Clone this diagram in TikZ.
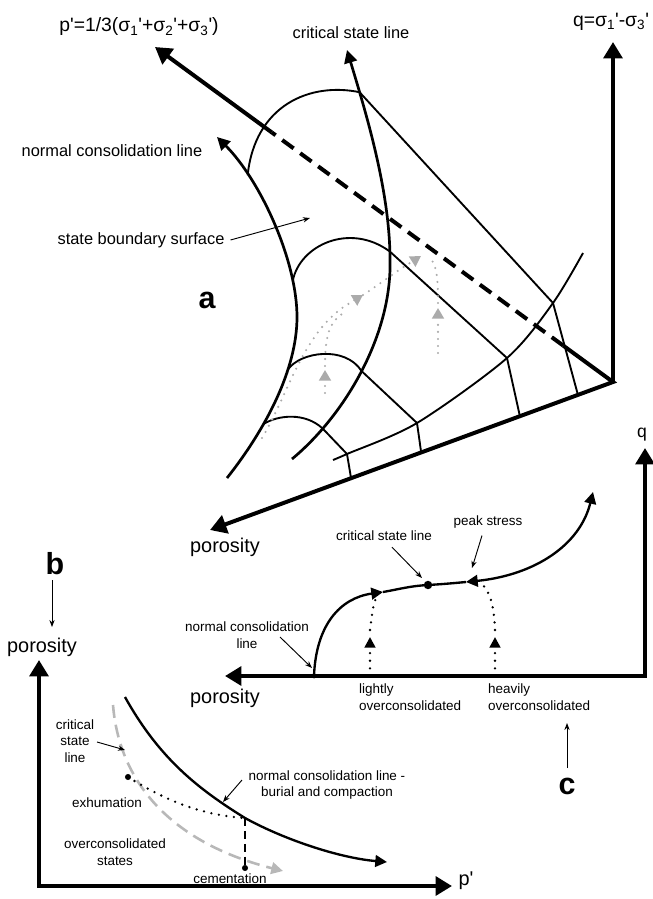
\documentclass[tikz,border=0pt]{standalone}
\usepackage{fontspec}
\setmainfont{Liberation Sans}[Ligatures=TeXOff]
\usetikzlibrary{arrows.meta,calc}
\begin{document}
\begin{tikzpicture}[x=0.03cm,y=-0.03cm,
        axis/.style={line width=3.4pt,-{Triangle[length=14pt,width=16pt]}},
        dblaxis/.style={line width=3.4pt,{Triangle[length=14pt,width=16pt]}-{Triangle[length=14pt,width=16pt]}},
        thickline/.style={line width=2.3pt},
        thinline/.style={line width=1.6pt},
        cline/.style={line width=2pt},
        tip/.style={-{Triangle[length=10pt,width=10pt]}},
        pointer/.style={line width=0.8pt,-{Stealth[length=6pt,width=4.5pt]}},
        graydots/.style={draw=black!33,line width=2pt,line cap=round,dash pattern=on 0pt off 6pt},
        graytip/.style={-{Triangle[length=9pt,width=10pt,line cap=butt]}},
        graydash/.style={draw=black!28,line width=2.2pt,dash pattern=on 11pt off 6pt},
        blackdots/.style={line width=2.2pt,line cap=round,dash pattern=on 0pt off 6.5pt},
        lab/.style={font=\fontsize{11.5}{14}\selectfont,align=center,inner sep=0pt},
        midlab/.style={font=\fontsize{14}{16}\selectfont,inner sep=0pt},
        biglab/.style={font=\fontsize{17}{19}\selectfont,inner sep=0pt},
        panel/.style={font=\fontsize{26}{28}\selectfont\bfseries,inner sep=0pt}]
    \useasboundingbox (0,0) rectangle (653,899);

    \coordinate (O) at (613,382);
    \coordinate (qtip) at (613,42);
    \coordinate (ptip) at (155,47);
    \coordinate (ftip) at (210,530);
    \coordinate (pd1) at ($(O)!0.109!(ptip)$);
    \coordinate (pd2) at ($(O)!0.745!(ptip)$);
    \draw[axis] (O) -- (qtip);
    \draw[axis] (pd1) -- (O) -- (ftip);
    \draw[line width=3.4pt,dash pattern=on 12pt off 7pt] (pd1) -- (pd2);
    \draw[axis] (pd2) -- (ptip);

    \draw[thickline,-{Triangle[length=11pt,width=11pt]}] (227,478) .. controls (265,430) and (297,370) .. (297,317)
        coordinate[pos=0.35] (n4) coordinate[pos=0.68] (n3)
        .. controls (297,260) and (260,180) .. (217,137)
        coordinate[pos=0.2] (n2) coordinate[pos=0.75] (n1);
    \draw[thickline,-{Triangle[length=11pt,width=11pt]}] (292,459) .. controls (345,415) and (392,335) .. (390,260)
        coordinate[pos=0.2] (c4) coordinate[pos=0.5] (c3)
        .. controls (390,190) and (365,110) .. (347,50)
        coordinate[pos=0.04] (c2) coordinate[pos=0.78] (c1);

    \coordinate (b1) at (553,303);
    \coordinate (b2) at (507,358);
    \coordinate (b3) at (417,423);
    \coordinate (b4) at (347,454);
    \coordinate (a1) at ($(O)!0.087!(ftip)$);
    \coordinate (a2) at ($(O)!0.231!(ftip)$);
    \coordinate (a3) at ($(O)!0.476!(ftip)$);
    \coordinate (a4) at ($(O)!0.650!(ftip)$);
    \draw[thinline] plot[smooth] coordinates {(333,460) (b4) (b3) (b2) (b1) (583,253)};
    \draw[thinline] (n1) .. controls (255,105) and (310,82) .. (c1) -- (b1) -- (a1);
    \draw[thinline] (n2) .. controls (300,245) and (350,222) .. (c2) -- (b2) -- (a2);
    \draw[thinline] (n3) .. controls (300,352) and (345,345) .. (c3) -- (b3) -- (a3);
    \draw[thinline] (n4) .. controls (278,415) and (305,412) .. (c4) -- (b4) -- (a4);

    \coordinate (g1) at (363,295);
    \coordinate (g2) at (421,256);
    \coordinate (g3) at (325,370);
    \coordinate (g4) at (438,308);
    \draw[graydots,graytip] (262,438) .. controls (288,395) and (302,335) .. (345,306) -- (g1);
    \draw[graydots,graytip] (g1) .. controls (380,284) and (395,272) .. (410,263) -- (g2);
    \draw[graydots,graytip] (325,393) -- (g3);
    \draw[graydots] (325,366) .. controls (325,335) and (330,322) .. (342,314);
    \draw[graydots,graytip] (438,353) -- (g4);
    \draw[graydots] (438,303) .. controls (438,280) and (437,265) .. (430,258);

    \node[font=\fontsize{16.5}{19}\selectfont,inner sep=0pt] (plab) at (139,27) {p'=1/3(σ\textsubscript{1}'+σ\textsubscript{2}'+σ\textsubscript{3}')};
    \node[font=\fontsize{16.5}{19}\selectfont,inner sep=0pt] (qlab) at (611,22) {q=σ\textsubscript{1}'-σ\textsubscript{3}'};
    \node[midlab] (csla) at (351,33) {critical state line};
    \node[midlab] (ncla) at (112,151) {normal consolidation line};
    \node[midlab] (sbs) at (141,240) {state boundary surface};
    \coordinate (sbsend) at (310,218);
    \draw[pointer] ([xshift=5pt]sbs.east) -- (sbsend);
    \node[panel] (pa) at (207,300) {a};
    \node[biglab] (pora) at (225,547) {porosity};

    \coordinate (cO) at (645,676);
    \coordinate (cq) at (645,448);
    \coordinate (cp) at (225,676);
    \draw[dblaxis] (cq) -- (cO) -- (cp);
    \coordinate (cn) at (314,676);
    \coordinate (cm1) at (383,592);
    \coordinate (cs) at (428,585);
    \coordinate (pk) at (466,582);
    \coordinate (ctip) at (593,492);
    \draw[cline,tip] (cn) .. controls (316,625) and (340,598) .. (cm1);
    \draw[cline] (cm1) .. controls (400,589) and (410,586) .. (cs) .. controls (445,584) and (455,583) .. (pk);
    \draw[cline,{Triangle[length=10pt,width=10pt]}-{Triangle[length=10pt,width=10pt]}] (pk) .. controls (535,575) and (580,545) .. (ctip);
    \fill (cs) circle (3.6pt);
    \fill (cn) circle (2pt);
    \coordinate (lo) at (370,637);
    \coordinate (ho) at (495,637);
    \draw[blackdots,-{Triangle[length=9pt,width=9pt]}] (370,676) -- (lo);
    \draw[blackdots] (370,630) .. controls (372,615) and (373,605) .. (376,598);
    \draw[blackdots,-{Triangle[length=9pt,width=9pt]}] (495,676) -- (ho);
    \draw[blackdots] (495,630) .. controls (494,605) and (490,592) .. (482,584);

    \node[lab] (cslc) at (384,536) {critical state line};
    \draw[pointer] ($(cslc.south)+(8,6)$) -- ($(cs)+(-6,-7)$);
    \node[lab] (pks) at (488,522) {peak stress};
    \draw[pointer] ($(pks.south)+(-6,7)$) -- ($(pk)+(6,-14)$);
    \node[lab] (nclc) at (247,635) {normal consolidation\\line};
    \draw[pointer] ($(nclc.center)+(33,2)$) -- ($(cn)+(-2,-8)$);
    \node[lab,align=left,anchor=west] (lt) at (359,697) {lightly\\overconsolidated};
    \node[lab,align=left,anchor=west] (hv) at (488,697) {heavily\\overconsolidated};
    \node[biglab] (porc) at (225,698) {porosity};
    \node[font=\fontsize{15}{17}\selectfont,inner sep=0pt] (qc) at (642,435) {q};
    \node[panel] (pc) at (567,786) {c};
    \coordinate (pcs) at (567,768);
    \coordinate (pce) at (567,723);
    \draw[pointer] (pcs) -- (pce);

    \coordinate (bO) at (39,886);
    \coordinate (bq) at (39,660);
    \coordinate (bp) at (452,886);
    \draw[dblaxis] (bq) -- (bO) -- (bp);
    \node[biglab] (porb) at (42,647) {porosity};
    \node[biglab] (pb) at (466,881) {p'};
    \node[panel] (pbn) at (55,564) {b};
    \coordinate (pbs) at (52,580);
    \coordinate (pbe) at (52,627);
    \draw[pointer] (pbs) -- (pbe);

    \coordinate (nb0) at (125,697);
    \coordinate (nb) at (245,818);
    \coordinate (nbt) at (387,862);
    \draw[graydash,tip] (113,705) .. controls (120,790) and (180,845) .. (283,871);
    \draw[cline,tip] (nb0) .. controls (160,760) and (200,790) .. (nb) .. controls (285,840) and (340,858) .. (nbt);
    \coordinate (ex) at (128,777);
    \coordinate (cem) at (245,868);
    \draw[blackdots] (ex) .. controls (165,800) and (200,815) .. (nb);
    \draw[line width=2pt,dash pattern=on 7pt off 4pt] (nb) -- (cem);
    \fill (ex) circle (2.6pt);
    \fill (cem) circle (2.6pt);
    \node[lab] (cemt) at (230,879) {cementation};
    \node[lab] (cslb) at (75,741) {critical\\state\\line};
    \draw[pointer] (97,742) -- (125,750);
    \node[lab] (exh) at (107,803) {exhumation};
    \node[lab] (ocs) at (115,852) {overconsolidated\\states};
    \node[lab] (nclb) at (327,785) {normal consolidation line -\\burial and compaction};
    \draw[pointer] (242,780) -- (223,802);
\end{tikzpicture}
\end{document}
